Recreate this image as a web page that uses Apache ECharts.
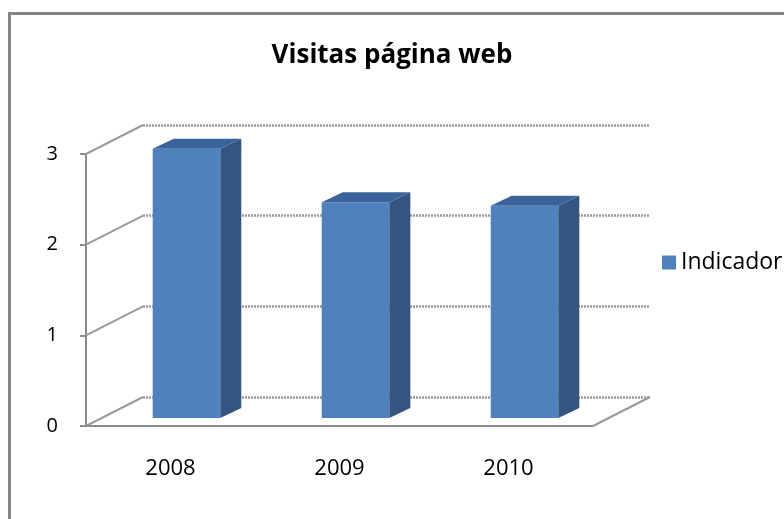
<!DOCTYPE html>
<html style="height: 100%">
<head>
<meta charset="utf-8">
</head>
<body style="height: 100%; margin: 0; background: #fff">
	<div id="container" style="width: 784px; height: 519px"></div>
	<script type="text/javascript" src="https://cdn.jsdelivr.net/npm/echarts@6/dist/echarts.min.js"></script>
	<script type="text/javascript">
		// datos
		var years = ['2008', '2009', '2010'];
		var visitas = [2.97, 2.38, 2.34];
		var yTicks = [0, 1, 2, 3];

		// falso 3D: desplazamiento de la pared del fondo y de las barras
		var DX = 57, DY = -29;
		var BAR_DX = 16, BAR_DY = -8;
		var SIDE_DX = 21, SIDE_DY = -10;
		var FONT = 'Open Sans';

		var dom = document.getElementById('container');
		var myChart = echarts.init(dom);

		var option = {
			backgroundColor: '#fff',
			animation: false,
			title: {
				text: 'Visitas página web',
				left: 'center',
				top: 38,
				textStyle: { fontFamily: FONT, fontSize: 26, fontWeight: 'bold', color: '#000' }
			},
			legend: {
				data: ['Indicador'],
				left: 657,
				top: 246,
				icon: 'rect',
				itemWidth: 14,
				itemHeight: 14,
				itemGap: 5,
				textStyle: { fontFamily: FONT, fontSize: 23, color: '#000' }
			},
			graphic: [{
				type: 'rect',
				shape: { x: 9.5, y: 13.5, width: 900, height: 700 },
				style: { fill: null, stroke: '#858585', lineWidth: 3 },
				silent: true
			}],
			grid: [
				{ left: 86, top: 154, width: 507, height: 272 },
				{ left: 86 + DX, top: 154 + DY, width: 507, height: 272 }
			],
			xAxis: [{
				type: 'category',
				gridIndex: 0,
				data: years,
				axisLine: { lineStyle: { color: '#8c8c8c', width: 2 } },
				axisTick: { length: 10, lineStyle: { color: '#8c8c8c', width: 2 } },
				axisLabel: { margin: 32, fontFamily: FONT, fontSize: 22, color: '#000' }
			}, {
				type: 'category',
				gridIndex: 1,
				data: years,
				show: false
			}],
			yAxis: [{
				type: 'value',
				gridIndex: 0,
				min: 0, max: 3, interval: 1,
				axisLine: { show: true, lineStyle: { color: '#8c8c8c', width: 2 } },
				axisTick: { show: true, length: 6, lineStyle: { color: '#8c8c8c', width: 2 } },
				axisLabel: { margin: 28, fontFamily: FONT, fontSize: 20, color: '#000' },
				splitLine: { show: false }
			}, {
				type: 'value',
				gridIndex: 1,
				min: 0, max: 3, interval: 1,
				axisLine: { show: false },
				axisTick: { show: false },
				axisLabel: { show: false },
				splitLine: { show: true, lineStyle: { color: '#999', width: 2.5, type: [2, 1] } }
			}],
			series: [{
				// lineas diagonales de la pared izquierda y del suelo
				type: 'custom',
				xAxisIndex: 0, yAxisIndex: 0,
				silent: true,
				z: 1,
				data: yTicks,
				renderItem: function (params, api) {
					var p = api.coord([0, api.value(0)]);
					var x0 = params.coordSys.x;
					var children = [{
						type: 'line',
						shape: { x1: x0, y1: p[1], x2: x0 + DX, y2: p[1] + DY },
						style: { stroke: '#9a9a9a', lineWidth: 2 }
					}];
					if (api.value(0) === 0) {
						var x1 = x0 + params.coordSys.width;
						children.push({
							type: 'line',
							shape: { x1: x1, y1: p[1], x2: x1 + DX, y2: p[1] + DY },
							style: { stroke: '#9a9a9a', lineWidth: 2 }
						});
					}
					return { type: 'group', children: children };
				},
				encode: { y: 0 }
			}, {
				name: 'Indicador',
				type: 'custom',
				xAxisIndex: 0, yAxisIndex: 0,
				z: 5,
				itemStyle: { color: '#4f81bd' },
				data: visitas.map(function (v, i) { return [i, v]; }),
				encode: { x: 0, y: 1 },
				renderItem: function (params, api) {
					var top = api.coord([api.value(0), api.value(1)]);
					var bot = api.coord([api.value(0), 0]);
					var w = api.size([1, 0])[0] * 0.4;
					var xl = top[0] - w / 2 + BAR_DX, xr = xl + w;
					var yt = top[1] + BAR_DY, yb = bot[1] + BAR_DY;
					return {
						type: 'group',
						children: [{
							type: 'rect',
							shape: { x: xl, y: yt, width: w, height: yb - yt },
							style: { fill: '#4f81bd' }
						}, {
							type: 'polygon',
							shape: { points: [[xr, yt], [xr + SIDE_DX, yt + SIDE_DY], [xr + SIDE_DX, yb + SIDE_DY], [xr, yb]] },
							style: { fill: '#34557f' }
						}, {
							type: 'polygon',
							shape: { points: [[xl, yt], [xl + SIDE_DX, yt + SIDE_DY], [xr + SIDE_DX, yt + SIDE_DY], [xr, yt]] },
							style: { fill: '#3b639b' }
						}]
					};
				}
			}]
		};

		if (option && typeof option === 'object') {
			myChart.setOption(option, true);
		}
	</script>
</body>
</html>
